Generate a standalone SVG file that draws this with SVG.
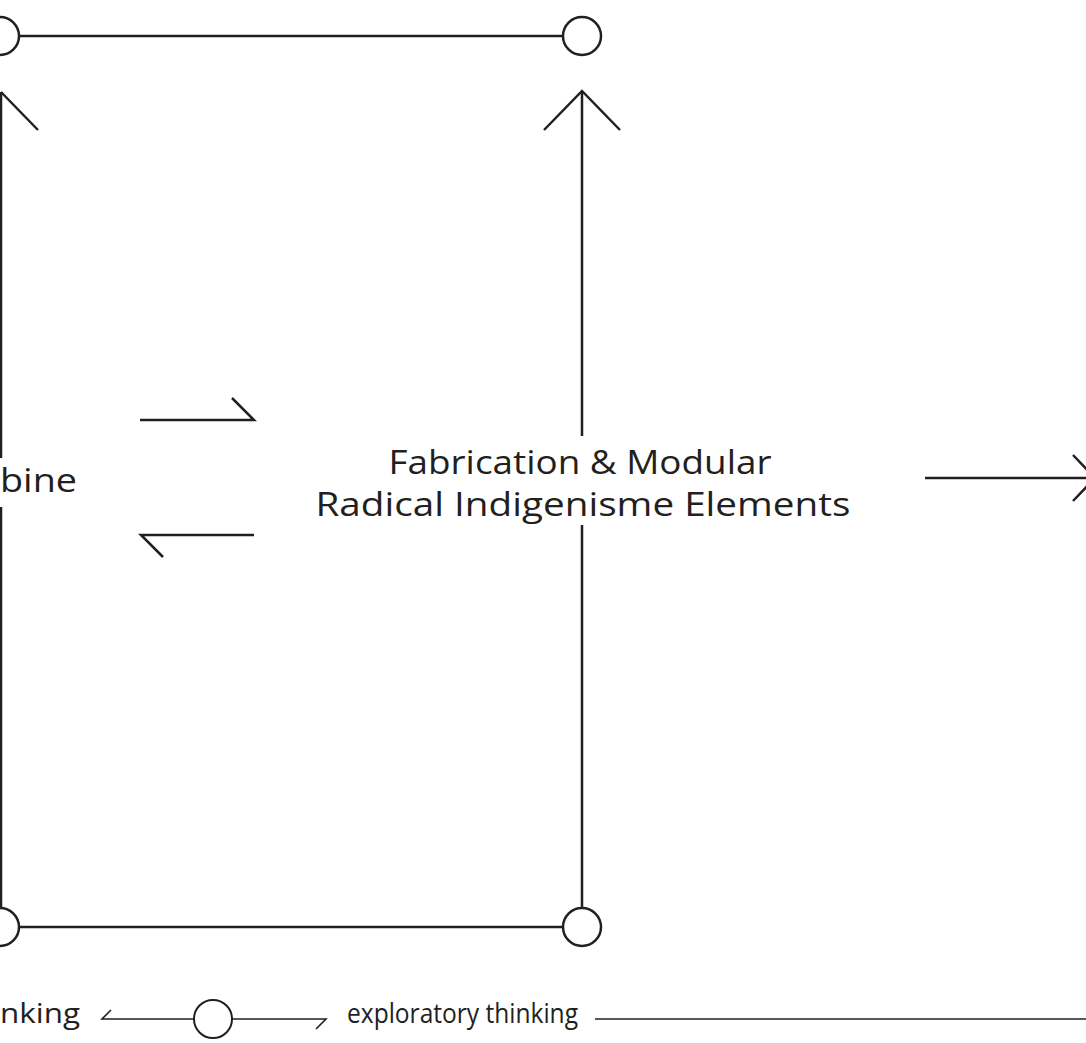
<svg xmlns="http://www.w3.org/2000/svg" width="1086" height="1043" viewBox="0 0 1086 1043">
<style>
.s{fill:none;stroke:#231f20;stroke-width:2.5;stroke-linecap:butt}
.t{stroke-width:1.6}
.c{fill:#fff;stroke:#231f20;stroke-width:2.5}
.c2{fill:#fff;stroke:#231f20;stroke-width:2}
.txt{font-family:"Open Sans","Noto Sans",sans-serif;fill:#231f20}
</style>
<rect width="1086" height="1043" fill="#fff"/>
<g id="connectors">
<path class="s" d="M18 36H563"/>
<path class="s" d="M18 927H563"/>
<path class="s" d="M1 92V458M1 507V908"/>
<path class="s" d="M1 92L38 130"/>
<path class="s" d="M582 91V436M582 525V908"/>
<path class="s" d="M544 130L582 91L620 130"/>
<path class="s" d="M140 420H254L232 398"/>
<path class="s" d="M254 535H141L163 557"/>
<path class="s" d="M925 478H1095M1073 455L1095 478L1073 501"/>
<path class="s t" d="M111 1010L102 1019H194M232 1019H326L316 1029"/>
<path class="s t" d="M595 1019H1086"/>
</g>
<g id="node-tl"><circle class="c" cx="0" cy="36" r="19"/></g>
<g id="node-tr"><circle class="c" cx="582" cy="36" r="19"/></g>
<g id="node-bl"><circle class="c" cx="0" cy="927" r="19"/></g>
<g id="node-br"><circle class="c" cx="582" cy="927" r="19"/></g>
<g id="node-legend"><circle class="c2" cx="213" cy="1019" r="19"/></g>
<g id="label-combine"><text class="txt" x="77" y="492" font-size="33" text-anchor="end" textLength="77" lengthAdjust="spacingAndGlyphs">bine</text></g>
<g id="label-fabrication">
<text class="txt" x="580" y="474" font-size="32" text-anchor="middle" textLength="383" lengthAdjust="spacingAndGlyphs">Fabrication &amp; Modular</text>
<text class="txt" x="583" y="516" font-size="32" text-anchor="middle" textLength="535" lengthAdjust="spacingAndGlyphs">Radical Indigenisme Elements</text>
</g>
<g id="label-thinking"><text class="txt" x="80" y="1023" font-size="28" text-anchor="end" textLength="80" lengthAdjust="spacingAndGlyphs">nking</text></g>
<g id="label-exploratory"><text class="txt" x="347" y="1023" font-size="28" textLength="231" lengthAdjust="spacingAndGlyphs">exploratory thinking</text></g>
</svg>
